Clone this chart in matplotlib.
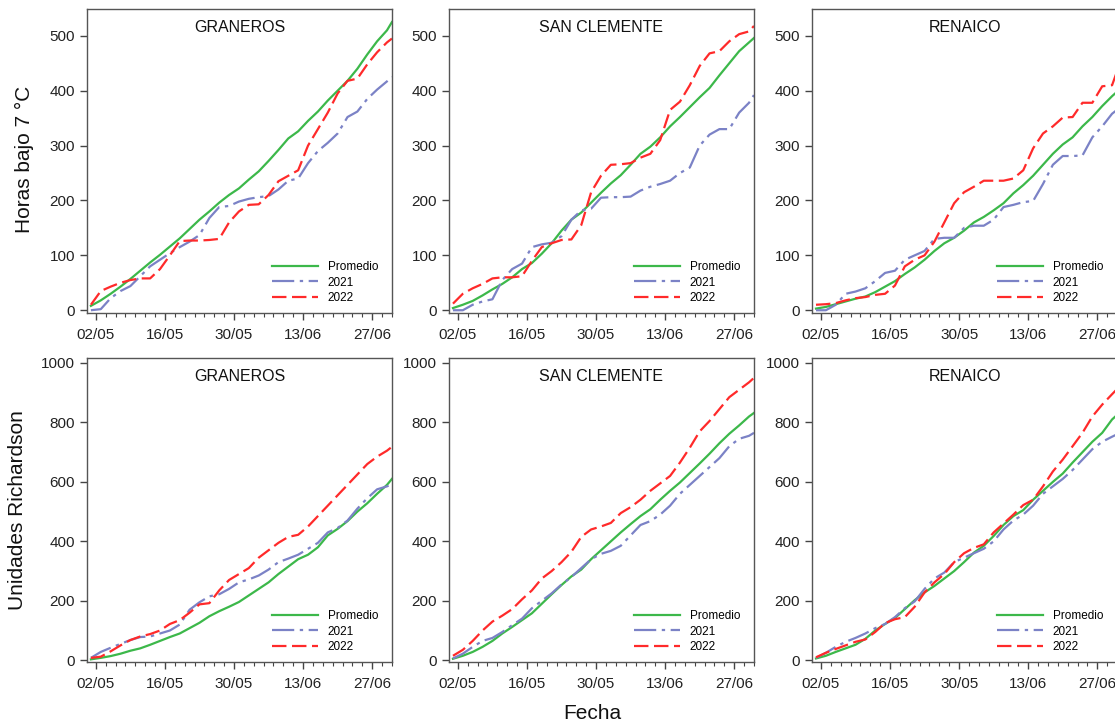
"""
Horas bajo 7 °C y Unidades Richardson acumuladas, mayo-junio.
"""

import numpy as np
import matplotlib.pyplot as plt

# dias desde el 02/05
dias = list(range(-1, 60, 2)) + [60]

tick_dias = [0, 14, 28, 42, 56]
tick_labels = ['02/05', '16/05', '30/05', '13/06', '27/06']

localidades = ['GRANEROS', 'SAN CLEMENTE', 'RENAICO']

# Horas bajo 7 °C
graneros_horas_prom = [8, 18, 30, 43, 57, 72, 87, 101, 116, 131, 148, 165, 180, 196, 210, 222,
                       238, 253, 272, 292, 313, 326, 345, 362, 382, 400, 418, 440, 466, 490, 510, 525]
graneros_horas_2021 = [0, 2, 22, 35, 44, 62, 80, 92, 104, 115, 125, 137, 168, 188, 190, 198,
                       203, 206, 208, 220, 236, 240, 268, 290, 305, 322, 352, 362, 385, 402, 417, 425]
graneros_horas_2022 = [10, 35, 43, 50, 55, 58, 58, 75, 100, 126, 127, 127, 128, 130, 160, 180,
                       192, 193, 210, 235, 245, 255, 300, 330, 360, 395, 418, 422, 448, 470, 488, 495]

sanclemente_horas_prom = [4, 10, 17, 27, 38, 48, 60, 75, 86, 103, 122, 145, 165, 178, 196, 214,
                          231, 246, 265, 285, 298, 315, 335, 352, 370, 388, 405, 428, 450, 472, 488, 496]
sanclemente_horas_2021 = [0, 0, 10, 16, 20, 55, 75, 85, 115, 120, 123, 135, 165, 182, 185, 205,
                          206, 206, 207, 218, 225, 230, 236, 250, 260, 300, 320, 330, 330, 360, 378, 392]
sanclemente_horas_2022 = [12, 30, 40, 48, 58, 60, 60, 62, 90, 115, 122, 128, 129, 155, 215, 245,
                          265, 266, 268, 278, 285, 310, 365, 380, 410, 445, 468, 472, 490, 503, 508, 518]

renaico_horas_prom = [3, 6, 11, 16, 21, 25, 33, 43, 53, 66, 78, 92, 108, 122, 132, 145,
                      160, 170, 182, 195, 213, 228, 245, 265, 285, 302, 315, 335, 352, 372, 390, 398]
renaico_horas_2021 = [0, 0, 10, 30, 34, 40, 53, 68, 72, 92, 100, 108, 130, 132, 132, 150,
                      154, 154, 165, 188, 192, 197, 199, 230, 265, 281, 281, 282, 315, 335, 358, 365]
renaico_horas_2022 = [10, 11, 13, 18, 22, 24, 28, 30, 45, 80, 92, 100, 125, 160, 195, 215,
                      225, 236, 236, 236, 240, 255, 295, 322, 335, 351, 352, 378, 378, 408, 410, 435]

# Unidades Richardson
graneros_ur_prom = [3, 8, 14, 22, 32, 40, 52, 65, 78, 90, 108, 126, 148, 165, 180, 196,
                    218, 240, 262, 290, 315, 340, 355, 380, 420, 442, 468, 500, 528, 560, 590, 610]
graneros_ur_2021 = [8, 28, 42, 55, 68, 78, 80, 90, 100, 120, 170, 195, 215, 222, 240, 262,
                    272, 285, 305, 330, 342, 355, 375, 395, 430, 445, 470, 510, 545, 575, 585, 592]
graneros_ur_2022 = [8, 12, 30, 50, 68, 80, 88, 100, 122, 135, 160, 188, 192, 235, 270, 290,
                    310, 345, 370, 395, 415, 422, 450, 485, 520, 555, 590, 625, 660, 685, 705, 718]

sanclemente_ur_prom = [5, 15, 28, 45, 65, 90, 112, 135, 158, 190, 222, 253, 282, 305, 340, 370,
                       400, 430, 458, 485, 508, 540, 570, 598, 630, 662, 695, 730, 762, 790, 820, 832]
sanclemente_ur_2021 = [6, 22, 45, 65, 75, 95, 118, 140, 175, 200, 225, 255, 280, 310, 340, 358,
                       368, 385, 420, 455, 468, 490, 520, 560, 590, 620, 650, 680, 720, 745, 755, 765]
sanclemente_ur_2022 = [15, 35, 65, 100, 130, 150, 172, 205, 235, 275, 300, 330, 365, 415, 440, 450,
                       462, 495, 515, 540, 570, 595, 620, 665, 715, 770, 805, 845, 885, 910, 935, 950]

renaico_ur_prom = [6, 15, 28, 40, 52, 72, 100, 122, 142, 172, 202, 228, 250, 275, 300, 330,
                   362, 385, 418, 455, 485, 505, 540, 570, 600, 628, 665, 700, 735, 765, 810, 825]
renaico_ur_2021 = [8, 25, 45, 62, 75, 90, 108, 122, 145, 175, 198, 240, 275, 295, 330, 345,
                   360, 375, 400, 440, 470, 490, 520, 560, 585, 610, 640, 675, 710, 735, 752, 760]
renaico_ur_2022 = [10, 25, 38, 50, 62, 70, 95, 125, 138, 145, 180, 228, 262, 290, 330, 360,
                   378, 390, 430, 460, 490, 522, 540, 585, 635, 675, 720, 765, 820, 860, 895, 912]

horas = [
    (graneros_horas_prom, graneros_horas_2021, graneros_horas_2022),
    (sanclemente_horas_prom, sanclemente_horas_2021, sanclemente_horas_2022),
    (renaico_horas_prom, renaico_horas_2021, renaico_horas_2022),
]
ur = [
    (graneros_ur_prom, graneros_ur_2021, graneros_ur_2022),
    (sanclemente_ur_prom, sanclemente_ur_2021, sanclemente_ur_2022),
    (renaico_ur_prom, renaico_ur_2021, renaico_ur_2022),
]

VERDE = '#3cb84a'
AZUL = '#7b82c6'
ROJO = '#ff2a2a'


def panel(ax, nombre, series, ylim, yticks):
    prom, s2021, s2022 = series
    ax.plot(dias, prom, color=VERDE, lw=1.6, label='Promedio')
    ax.plot(dias, s2021, color=AZUL, lw=1.6, linestyle=(0, (10, 2.5, 1.5, 2.5)), label='2021')
    ax.plot(dias, s2022, color=ROJO, lw=1.6, linestyle=(0, (6.5, 2.5)), label='2022')

    ax.set_xlim(-1.8, 60)
    ax.set_ylim(*ylim)
    ax.set_yticks(yticks)
    ax.set_xticks(tick_dias)
    ax.set_xticklabels(tick_labels)
    ax.set_xticks(np.arange(0, 61, 2), minor=True)
    ax.tick_params(axis='both', which='major', length=5, width=1, labelsize=11,
                   color='#444444', labelcolor='#222222')
    ax.tick_params(axis='x', which='minor', length=3, width=0.8, color='#444444')
    ax.tick_params(axis='x', which='major', pad=6)
    for s in ax.spines.values():
        s.set_color('#555555')
        s.set_linewidth(1)

    ax.text(0.5, 0.94, nombre, transform=ax.transAxes, ha='center', va='center',
            fontsize=11.5, color='#111111')
    ax.legend(loc='lower right', bbox_to_anchor=(0.99, -0.005), frameon=False,
              fontsize=8.5, handlelength=3.9, labelspacing=0.28, handletextpad=0.8)


def main():
    plt.rcParams['font.family'] = ['Liberation Sans', 'DejaVu Sans']
    fig = plt.figure(figsize=(11.15, 7.24), dpi=100)

    lefts = [0.078, 0.4027, 0.7283]
    ancho = 0.2735
    alto = 0.42

    for i in range(3):
        ax = fig.add_axes([lefts[i], 0.5677, ancho, alto])
        panel(ax, localidades[i], horas[i], (-5, 549), [0, 100, 200, 300, 400, 500])

        ax = fig.add_axes([lefts[i], 0.0856, ancho, alto])
        panel(ax, localidades[i], ur[i], (-6, 1017), [0, 200, 400, 600, 800, 1000])

    fig.text(0.022, 0.78, 'Horas bajo 7 °C', rotation=90, ha='center', va='center',
             fontsize=15, color='#111111')
    fig.text(0.016, 0.295, 'Unidades Richardson', rotation=90, ha='center', va='center',
             fontsize=15, color='#111111')
    fig.text(0.531, 0.015, 'Fecha', ha='center', va='center', fontsize=15, color='#111111')

    fig.savefig('out.png', dpi=100)


if __name__ == '__main__':
    main()
